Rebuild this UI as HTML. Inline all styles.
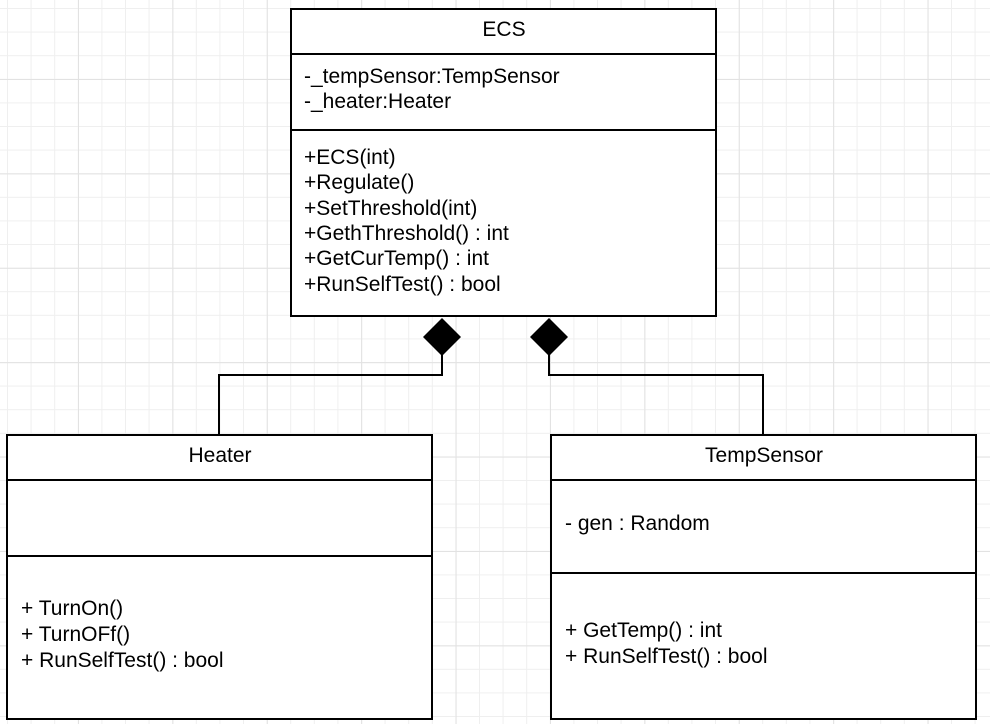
<!DOCTYPE html>
<html><head><style>html,body{margin:0;padding:0;background:#fff}svg{display:block}text{font-family:"Liberation Sans",Arial,sans-serif;font-size:21px;fill:#000}</style></head>
<body>
<svg width="990" height="724" viewBox="0 0 990 724" xmlns="http://www.w3.org/2000/svg">
<defs>
<pattern id="g" x="7" y="8" width="23.6" height="23.6" patternUnits="userSpaceOnUse">
<path d="M0.5 0V23.6M0 0.5H23.6" stroke="#efefef" stroke-width="1" fill="none"/>
</pattern>
<pattern id="G" x="78" y="79" width="94.4" height="94.4" patternUnits="userSpaceOnUse">
<path d="M0.5 0V94.4M0 0.5H94.4" stroke="#e2e2e2" stroke-width="1" fill="none"/>
</pattern>
</defs>
<rect width="990" height="724" fill="url(#g)"/>
<rect width="990" height="724" fill="url(#G)"/>
<g fill="#fff" stroke="#000" stroke-width="2">
<rect x="291" y="9" width="425" height="307"/>
<rect x="7" y="435" width="425" height="284"/>
<rect x="551" y="435" width="425" height="284"/>
</g>
<g stroke="#000" stroke-width="2" fill="none">
<path d="M291 54H716M291 130H716"/>
<path d="M7 480H432M7 556H432"/>
<path d="M551 480H976M551 573H976"/>
<path d="M442 355V375H219V435"/>
<path d="M549 355V375H763V435"/>
</g>
<path d="M442 318L461 337L442 356L423 337Z M549 318L568 337L549 356L530 337Z" fill="#000"/>
<text x="504" y="36" text-anchor="middle">ECS</text>
<text x="304" y="83">-_tempSensor:TempSensor</text>
<text x="304" y="108">-_heater:Heater</text>
<text x="304" y="164">+ECS(int)</text>
<text x="304" y="189">+Regulate()</text>
<text x="304" y="215">+SetThreshold(int)</text>
<text x="304" y="240">+GethThreshold() : int</text>
<text x="304" y="265">+GetCurTemp() : int</text>
<text x="304" y="291">+RunSelfTest() : bool</text>
<text x="220" y="462" text-anchor="middle">Heater</text>
<text x="21" y="615">+ TurnOn()</text>
<text x="21" y="641">+ TurnOFf()</text>
<text x="21" y="667">+ RunSelfTest() : bool</text>
<text x="764" y="462" text-anchor="middle">TempSensor</text>
<text x="565" y="530">- gen : Random</text>
<text x="565" y="637">+ GetTemp() : int</text>
<text x="565" y="663">+ RunSelfTest() : bool</text>
</svg>
</body></html>
